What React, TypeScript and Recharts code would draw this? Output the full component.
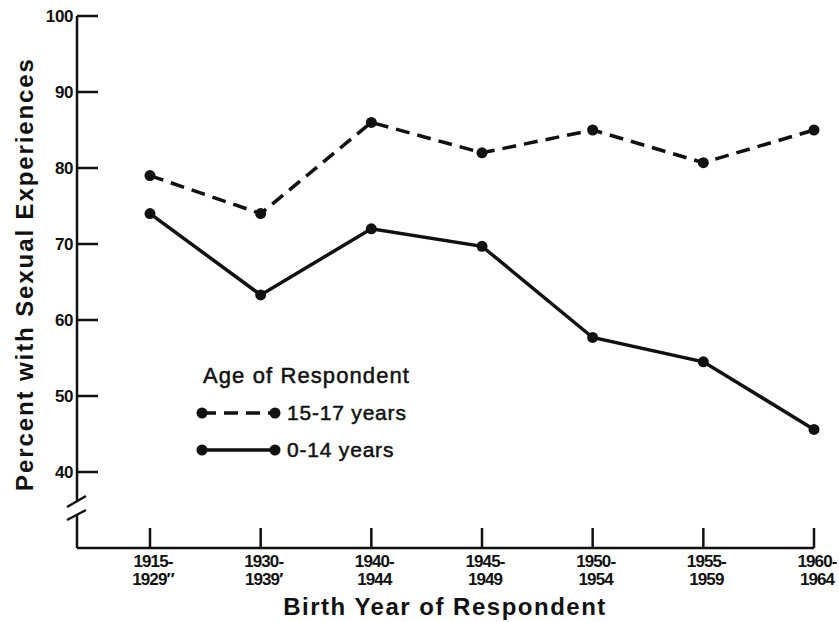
import React from 'react';
import { LineChart, Line, XAxis, YAxis } from 'recharts';

const periods = ['1915-1929', '1930-1939', '1940-1944', '1945-1949', '1950-1954', '1955-1959', '1960-1964'];
const tickTop = ['1915-', '1930-', '1940-', '1945-', '1950-', '1955-', '1960-'];
const tickBottom = ['1929\u2033', '1939\u2032', '1944', '1949', '1954', '1959', '1964'];
const pct15to17 = [79, 74, 86, 82, 85, 80.7, 85];
const pct0to14 = [74, 63.3, 72, 69.7, 57.7, 54.5, 45.6];
const yTicks = [40, 50, 60, 70, 80, 90, 100];
const seriesNames = ['15-17 years', '0-14 years'];
const legendTitle = 'Age of Respondent';
const xTitle = 'Birth Year of Respondent';
const yTitle = 'Percent with Sexual Experiences';

const data = periods.map((p, i) => ({ period: p, a: pct15to17[i], b: pct0to14[i] }));

const FONT = '"Liberation Sans", Arial, Helvetica, sans-serif';
const INK = '#111';

const XTick = (props: any) => {
  const { x, y, payload } = props;
  const i = periods.indexOf(payload.value);
  return (
    <g>
      <line x1={x} x2={x} y1={y} y2={y - 20} stroke={INK} strokeWidth={2.5} />
      <text x={x + 3} y={y + 19} textAnchor="middle" fontFamily={FONT} fontWeight="bold" fontSize={17} letterSpacing={-0.9} fill={INK}>{tickTop[i]}</text>
      <text x={x + 3} y={y + 37} textAnchor="middle" fontFamily={FONT} fontWeight="bold" fontSize={17} letterSpacing={-0.9} fill={INK}>{tickBottom[i]}</text>
    </g>
  );
};

const YTick = (props: any) => {
  const { x, y, payload } = props;
  return (
    <g>
      <line x1={x} x2={x + 21} y1={y} y2={y} stroke={INK} strokeWidth={2.5} />
      <text x={x - 4} y={y + 6} textAnchor="end" fontFamily={FONT} fontWeight="bold" fontSize={17} letterSpacing={-0.4} fill={INK}>{payload.value}</text>
    </g>
  );
};

export default function App() {
  return (
    <div style={{ position: 'absolute', left: 0, top: 0, width: 839, height: 622, background: '#fff' }}>
      <LineChart width={839} height={622} data={data} margin={{ top: 16, right: 25, bottom: 14, left: 17 }}>
        <XAxis
          dataKey="period"
          padding={{ left: 73, right: 0 }}
          height={60}
          tickSize={0}
          tickMargin={0}
          tickLine={false}
          interval={0}
          axisLine={{ stroke: INK, strokeWidth: 2.5 }}
          tick={<XTick />}
        />
        <YAxis
          domain={[30, 100]}
          ticks={yTicks}
          interval={0}
          width={60}
          tickSize={0}
          tickMargin={0}
          tickLine={false}
          axisLine={{ stroke: INK, strokeWidth: 2.5 }}
          tick={<YTick />}
        />
        <Line
          dataKey="a"
          name={seriesNames[0]}
          stroke={INK}
          strokeWidth={3.5}
          strokeDasharray="14 8"
          dot={{ r: 5.5, fill: INK, stroke: INK, strokeWidth: 0 }}
          isAnimationActive={false}
        />
        <Line
          dataKey="b"
          name={seriesNames[1]}
          stroke={INK}
          strokeWidth={3.5}
          dot={{ r: 5.5, fill: INK, stroke: INK, strokeWidth: 0 }}
          isAnimationActive={false}
        />
      </LineChart>
      <svg width={839} height={622} style={{ position: 'absolute', left: 0, top: 0, pointerEvents: 'none' }}>
        {/* axis break */}
        <rect x={68} y={502} width={18} height={13} fill="#fff" />
        <line x1={67} y1={507} x2={86} y2={496} stroke={INK} strokeWidth={2.5} />
        <line x1={67} y1={520} x2={86} y2={510} stroke={INK} strokeWidth={2.5} />
        {/* titles */}
        <text x={445} y={615} textAnchor="middle" fontFamily={FONT} fontWeight="bold" fontSize={24} letterSpacing={1.5} fill={INK}>{xTitle}</text>
        <text x={33} y={274} transform="rotate(-90 33 274)" textAnchor="middle" fontFamily={FONT} fontWeight="bold" fontSize={24} letterSpacing={1.9} fill={INK}>{yTitle}</text>
        {/* legend */}
        <text x={203} y={383} fontFamily={FONT} fontSize={22} letterSpacing={1.1} fill={INK} stroke={INK} strokeWidth={0.5}>{legendTitle}</text>
        <line x1={202} x2={275} y1={413} y2={413} stroke={INK} strokeWidth={3.5} strokeDasharray="14 8" />
        <circle cx={202} cy={413} r={5.5} fill={INK} />
        <circle cx={275} cy={413} r={5.5} fill={INK} />
        <text x={287} y={420} fontFamily={FONT} fontSize={21} letterSpacing={0.8} fill={INK} stroke={INK} strokeWidth={0.5}>{seriesNames[0]}</text>
        <line x1={202} x2={275} y1={450} y2={450} stroke={INK} strokeWidth={3.5} />
        <circle cx={202} cy={450} r={5.5} fill={INK} />
        <circle cx={275} cy={450} r={5.5} fill={INK} />
        <text x={287} y={457} fontFamily={FONT} fontSize={21} letterSpacing={0.8} fill={INK} stroke={INK} strokeWidth={0.5}>{seriesNames[1]}</text>
      </svg>
    </div>
  );
}
